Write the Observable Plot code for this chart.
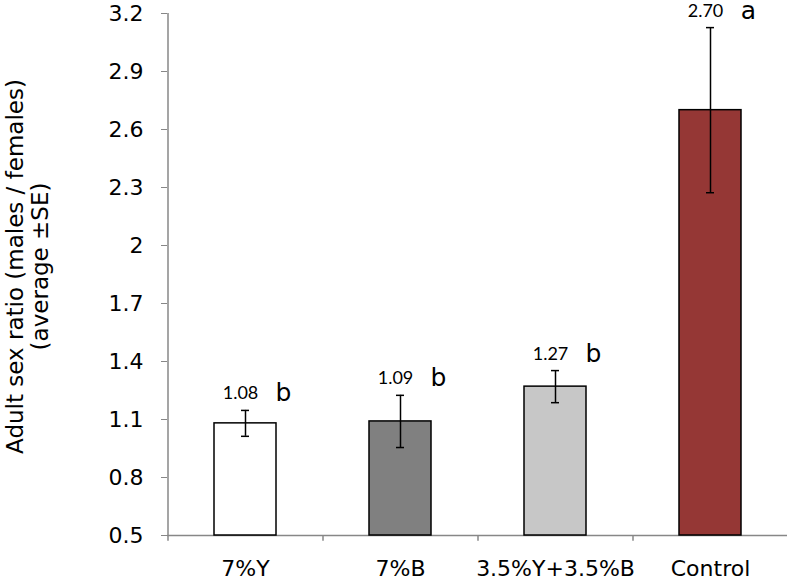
<!DOCTYPE html>
<html>
<head>
<meta charset="utf-8">
<script src="https://cdn.jsdelivr.net/npm/d3@7"></script>
<script src="https://cdn.jsdelivr.net/npm/@observablehq/plot@0.6"></script>
<style>
  html, body { margin: 0; padding: 0; background: #fff; }
</style>
</head>
<body>
<div id="chart"></div>
<script>
// ---- data ----
const categories = ["7%Y", "7%B", "3.5%Y+3.5%B", "Control"];
const means = [1.08, 1.09, 1.27, 2.70];
const ses = [0.067, 0.135, 0.083, 0.427];
const valueLabels = ["1.08", "1.09", "1.27", "2.70"];
const groupLetters = ["b", "b", "b", "a"];
const barColors = ["#ffffff", "#808080", "#c7c7c7", "#953735"];
const yTicks = [0.5, 0.8, 1.1, 1.4, 1.7, 2, 2.3, 2.6, 2.9, 3.2];
const yLabelLine1 = "Adult sex ratio (males / females)";
const yLabelLine2 = "(average ±SE)";

const rows = categories.map((c, i) => ({cat: c, mean: means[i], se: ses[i], value: valueLabels[i], letter: groupLetters[i]}));

const W = 788, H = 582;
const mL = 167, mR = 1, mT = 13, mB = 47;
const step = (W - mL - mR) / categories.length;
const axisGray = "#878787";
const sans = "DejaVu Sans, sans-serif";
const yMin = yTicks[0], yMax = yTicks[yTicks.length - 1];

const plot = Plot.plot({
  width: W,
  height: H,
  marginLeft: mL,
  marginRight: mR,
  marginTop: mT,
  marginBottom: mB,
  style: {fontFamily: sans, background: "#fff", overflow: "visible"},
  x: {domain: categories, paddingInner: 0.6, paddingOuter: 0.3},
  y: {domain: [yMin, yMax]},
  color: {domain: categories, range: barColors},
  marks: [
    Plot.axisY({ticks: yTicks, tickFormat: d => String(d), tickSize: 6, tickPadding: 18, fontSize: 22, stroke: axisGray, color: "#000", label: null}),
    Plot.axisX({tickSize: 0, tickPadding: 25, fontSize: 22, label: null}),
    // axis lines
    Plot.ruleY([yMin], {stroke: axisGray, strokeWidth: 1.5}),
    Plot.ruleX([categories[0]], {x: d => d, dx: -step / 2, y1: yMax, y2: yMin, stroke: axisGray, strokeWidth: 1.5}),
    // category boundary ticks
    Plot.ruleX(categories, {x: d => d, dx: -step / 2, y1: yMin, y2: yMin - 0.03, stroke: axisGray, strokeWidth: 1.5}),
    // bars
    Plot.barY(rows, {x: "cat", y1: yMin, y2: "mean", fill: "cat", stroke: "#000", strokeWidth: 1.5}),
    // error bars
    Plot.ruleX(rows, {x: "cat", y1: d => d.mean - d.se, y2: d => d.mean + d.se, stroke: "#000", strokeWidth: 1.5}),
    Plot.tickY(rows, {x: "cat", y: d => d.mean - d.se, stroke: "#000", strokeWidth: 1.5, insetLeft: 27, insetRight: 27}),
    Plot.tickY(rows, {x: "cat", y: d => d.mean + d.se, stroke: "#000", strokeWidth: 1.5, insetLeft: 27, insetRight: 27}),
    // value labels and significance letters
    Plot.text(rows, {x: "cat", y: d => d.mean + d.se, text: "value", dx: -5, dy: -11, lineAnchor: "bottom", fontSize: 18, fontFamily: "Lato, sans-serif", fill: "#000"}),
    Plot.text(rows, {x: "cat", y: d => d.mean + d.se, text: "letter", dx: 38, dy: -9, lineAnchor: "bottom", fontSize: 25, fontFamily: sans, fill: "#000"}),
    // y axis title (two lines)
    Plot.text([yLabelLine1], {text: d => d, frameAnchor: "left", textAnchor: "middle", lineAnchor: "middle", rotate: -90, dx: 15 - mL, dy: -8, fontSize: 23, fontFamily: sans, fill: "#000"}),
    Plot.text([yLabelLine2], {text: d => d, frameAnchor: "left", textAnchor: "middle", lineAnchor: "middle", rotate: -90, dx: 40 - mL, dy: -8, fontSize: 23, fontFamily: sans, fill: "#000"})
  ]
});

document.getElementById("chart").appendChild(plot);
</script>
</body>
</html>
